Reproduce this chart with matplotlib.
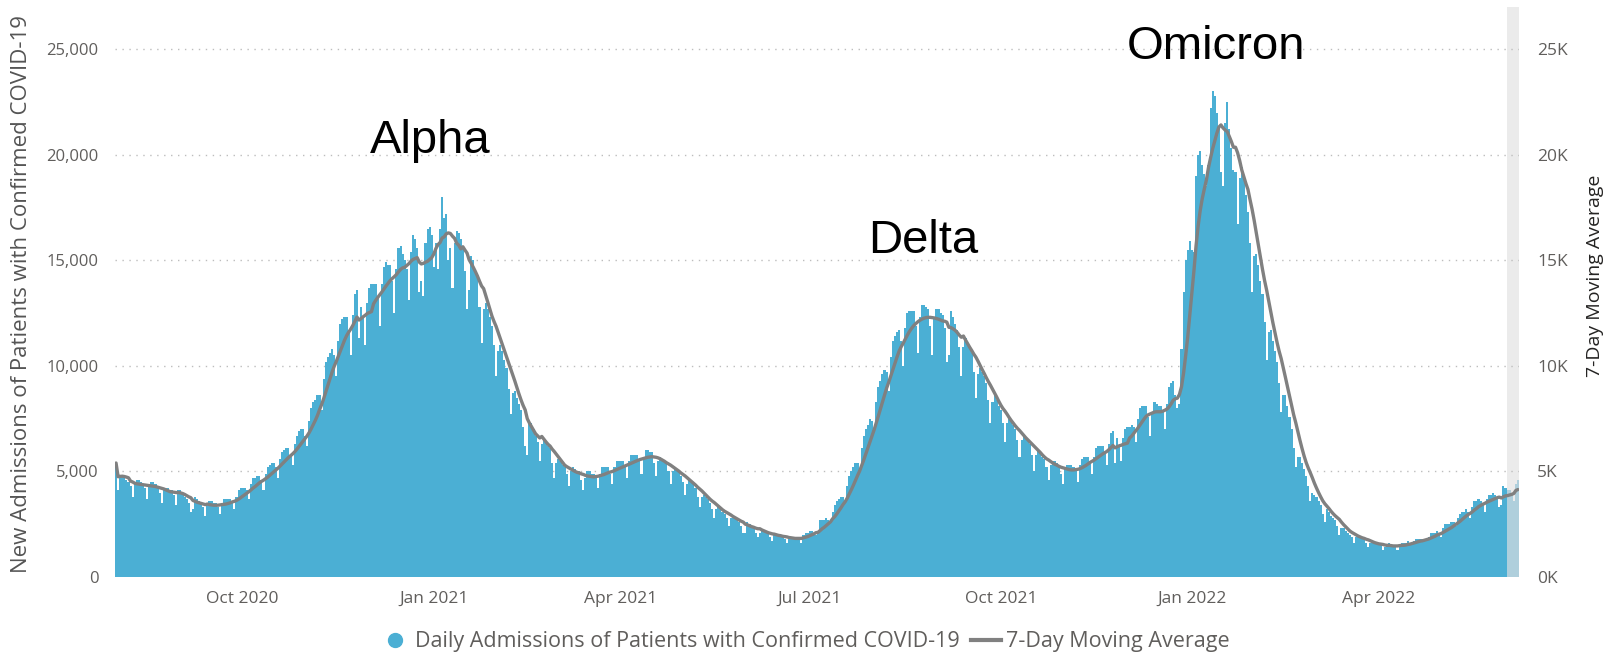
import matplotlib
matplotlib.use("Agg")
import matplotlib.pyplot as plt
import matplotlib.dates as mdates
from matplotlib.lines import Line2D
import numpy as np
import pandas as pd

# ---------------- data ----------------
start_date = "2020-08-01"
# daily admissions, in hundreds, one row per week (Sat..Fri)
daily_hundreds = [
    54, 41, 48, 48, 47, 46, 45,
    43, 38, 44, 46, 46, 45, 44,
    42, 37, 43, 45, 45, 44, 42,
    40, 35, 41, 42, 42, 41, 41,
    39, 34, 41, 41, 40, 38, 37,
    35, 31, 32, 38, 37, 36, 35,
    33, 29, 34, 36, 36, 35, 35,
    33, 30, 35, 37, 37, 37, 37,
    36, 32, 38, 41, 42, 42, 42,
    41, 37, 44, 47, 47, 48, 48,
    46, 41, 49, 52, 53, 54, 54,
    52, 47, 56, 59, 60, 61, 61,
    58, 53, 63, 67, 69, 70, 70,
    67, 62, 74, 80, 83, 84, 86,
    86, 79, 94, 102, 104, 106, 108,
    105, 95, 112, 120, 122, 123, 123,
    117, 105, 124, 134, 136, 113, 128,
    123, 110, 130, 137, 139, 139, 139,
    133, 119, 139, 147, 149, 148, 148,
    140, 125, 146, 156, 157, 153, 150,
    146, 131, 154, 162, 160, 156, 135,
    140, 133, 158, 165, 166, 162, 147,
    158, 146, 165, 180, 170, 172, 150,
    156, 137, 158, 164, 163, 160, 157,
    145, 127, 136, 152, 150, 146, 142,
    128, 111, 127, 130, 127, 123, 119,
    110, 95, 107, 110, 107, 103, 99,
    89, 77, 87, 88, 85, 82, 79,
    71, 62, 58, 74, 73, 70, 67,
    64, 55, 63, 65, 64, 62, 61,
    54, 47, 54, 56, 55, 53, 52,
    49, 43, 50, 52, 51, 50, 50,
    46, 41, 47, 50, 50, 49, 49,
    47, 42, 49, 52, 52, 52, 52,
    49, 44, 52, 55, 55, 55, 55,
    52, 47, 55, 58, 58, 58, 58,
    55, 49, 57, 60, 60, 59, 59,
    54, 48, 55, 57, 56, 55, 54,
    50, 44, 50, 52, 51, 50, 48,
    45, 39, 44, 46, 45, 44, 42,
    38, 33, 38, 39, 38, 37, 35,
    32, 28, 32, 33, 32, 31, 30,
    28, 24, 28, 28, 28, 27, 26,
    24, 21, 21, 26, 25, 24, 24,
    21, 19, 21, 22, 22, 21, 21,
    19, 17, 20, 20, 20, 20, 19,
    18, 16, 18, 19, 19, 19, 19,
    18, 16, 20, 21, 21, 22, 22,
    21, 20, 21, 27, 27, 27, 28,
    27, 26, 31, 34, 36, 37, 38,
    38, 35, 43, 48, 50, 52, 54,
    54, 50, 61, 67, 70, 72, 75,
    74, 69, 83, 90, 93, 96, 98,
    97, 88, 104, 112, 114, 116, 117,
    112, 100, 118, 125, 126, 126, 126,
    119, 106, 123, 129, 129, 128, 127,
    119, 105, 122, 127, 127, 125, 124,
    118, 102, 105, 126, 123, 120, 117,
    109, 95, 109, 113, 111, 108, 106,
    97, 85, 96, 99, 97, 95, 92,
    84, 73, 83, 86, 84, 81, 79,
    73, 64, 73, 75, 74, 72, 70,
    65, 57, 65, 67, 66, 65, 63,
    58, 50, 58, 60, 59, 57, 56,
    52, 46, 53, 55, 55, 54, 52,
    49, 44, 51, 53, 53, 53, 52,
    50, 45, 53, 56, 57, 57, 57,
    55, 49, 57, 61, 62, 62, 62,
    59, 53, 63, 68, 69, 54, 66,
    62, 55, 66, 70, 71, 71, 72,
    71, 64, 75, 80, 81, 81, 81,
    76, 67, 78, 83, 82, 81, 81,
    78, 70, 82, 90, 92, 93, 86,
    80, 82, 108, 135, 150, 155, 159,
    155, 154, 190, 200, 202, 195, 191,
    185, 195, 222, 230, 228, 220, 212,
    192, 185, 215, 225, 212, 203, 193,
    192, 167, 189, 194, 189, 181, 173,
    158, 135, 152, 153, 148, 140, 134,
    121, 103, 116, 117, 112, 107, 102,
    92, 78, 86, 86, 81, 76, 70,
    61, 52, 57, 57, 54, 51, 48,
    43, 36, 40, 39, 38, 36, 34,
    30, 26, 32, 31, 29, 28, 27,
    24, 20, 23, 23, 22, 21, 20,
    19, 16, 19, 19, 19, 18, 18,
    16, 14, 16, 16, 16, 16, 16,
    15, 13, 14, 15, 16, 15, 15,
    15, 13, 15, 16, 16, 16, 17,
    16, 15, 17, 18, 18, 18, 18,
    18, 17, 19, 21, 21, 21, 22,
    21, 19, 23, 25, 25, 25, 26,
    26, 24, 28, 30, 31, 31, 32,
    31, 28, 33, 36, 36, 37, 36,
    35, 31, 37, 39, 39, 40, 39,
    38, 33, 34, 43, 42, 41, 41,
    40, 36, 44, 46,
]
provisional_days = 6          # most recent days shown on grey background
ma_window = 7

tick_dates = ["2020-10-01", "2021-01-01", "2021-04-01", "2021-07-01",
              "2021-10-01", "2022-01-01", "2022-04-01"]
tick_labels = ["Oct 2020", "Jan 2021", "Apr 2021", "Jul 2021",
               "Oct 2021", "Jan 2022", "Apr 2022"]
left_ticks = [0, 5000, 10000, 15000, 20000, 25000]
left_labels = ["0", "5,000", "10,000", "15,000", "20,000", "25,000"]
right_labels = ["0K", "5K", "10K", "15K", "20K", "25K"]
wave_names = ["Alpha", "Delta", "Omicron"]

bar_name = "Daily Admissions of Patients with Confirmed COVID-19"
line_name = "7-Day Moving Average"
left_title = "New Admissions of Patients with Confirmed COVID-19"

# ---------------- derived ----------------
admissions = pd.Series(np.array(daily_hundreds, dtype=float) * 100,
                       index=pd.date_range(start_date, periods=len(daily_hundreds)))
moving_avg = admissions.rolling(ma_window, min_periods=1).mean()

# ---------------- style ----------------
W, H = 1612, 656
bar_color = "#4BAFD4"
bar_color_prov = "#AFCFDC"
band_color = "#EBEBEB"
line_color = "#808080"
tick_color = "#605E5C"
ui_font = ["Open Sans", "DejaVu Sans"]
title_font = ["Liberation Sans", "DejaVu Sans"]

fig = plt.figure(figsize=(W / 100, H / 100), dpi=100)
fig.patch.set_facecolor("white")
ax = fig.add_axes([115 / W, 79 / H, 1404 / W, 570 / H])

dates = mdates.date2num(admissions.index.to_pydatetime())
vals = admissions.values
n_prov = provisional_days

ax.axvspan(dates[-n_prov] - 0.5, dates[-1] + 0.5, color=band_color, zorder=0, lw=0)
ax.bar(dates[:-n_prov], vals[:-n_prov], width=1.0, color=bar_color, lw=0, zorder=2)
ax.bar(dates[-n_prov:], vals[-n_prov:], width=1.0, color=bar_color_prov, lw=0, zorder=2)
ax.plot(dates, moving_avg.values, color=line_color, lw=2.4, zorder=3,
        solid_capstyle="round", solid_joinstyle="round")

ax.set_xlim(dates[0] - 0.5, dates[-1] + 0.5)
ax.set_ylim(0, 27000)

ax.set_yticks(left_ticks)
ax.set_yticklabels(left_labels, fontfamily=ui_font, fontsize=12, color=tick_color)
ax.yaxis.grid(True, linestyle=(0, (1, 4)), color="#BDBDBD", lw=1.0, zorder=1)
ax.set_axisbelow(True)

ax.set_xticks(mdates.date2num(pd.to_datetime(tick_dates).to_pydatetime()))
ax.set_xticklabels(tick_labels, fontfamily=ui_font, fontsize=12.5, color=tick_color)
ax.tick_params(axis="both", length=0)
ax.tick_params(axis="y", pad=12)
ax.tick_params(axis="x", pad=10)
for s in ax.spines.values():
    s.set_visible(False)

ax2 = ax.twinx()
ax2.set_ylim(ax.get_ylim())
ax2.set_yticks(left_ticks)
ax2.set_yticklabels(right_labels, fontfamily=ui_font, fontsize=12.5, color=tick_color)
ax2.tick_params(axis="y", length=0, pad=13)
for s in ax2.spines.values():
    s.set_visible(False)

fig.text(22 / W, 1 - 294 / H, left_title, rotation=90, ha="center", va="center",
         fontfamily=ui_font, fontsize=16, color="#555555")
fig.text(1595 / W, 1 - 276 / H, line_name, rotation=90, ha="center", va="center",
         fontfamily=ui_font, fontsize=14, color="#252423")

wave_pos = [(430, 141), (923, 241), (1216, 47)]
for name, (px, py) in zip(wave_names, wave_pos):
    fig.text(px / W, 1 - py / H, name, ha="center", va="center",
             fontfamily=title_font, fontsize=34, color="black")

handles = [
    Line2D([], [], marker="o", linestyle="none", markersize=10,
           markerfacecolor=bar_color, markeredgecolor=bar_color),
    Line2D([], [], color=line_color, lw=3),
]
leg = fig.legend(handles, [bar_name, line_name], loc="center",
                 bbox_to_anchor=(805 / W, 14 / H), ncol=2, frameon=False,
                 handlelength=1.4, handletextpad=0.25, columnspacing=0.5,
                 borderpad=0.1, prop={"family": ui_font, "size": 15.5})
for t in leg.get_texts():
    t.set_color(tick_color)

fig.savefig("out.png", dpi=100, facecolor="white")
